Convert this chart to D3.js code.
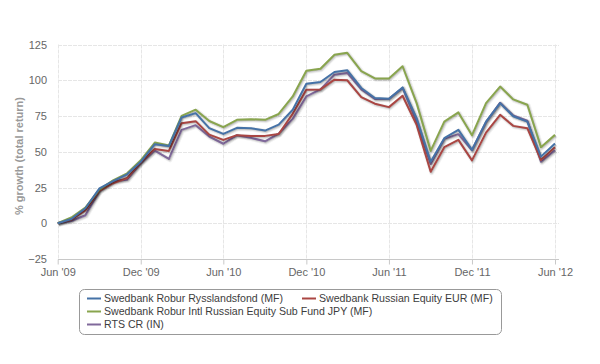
<!DOCTYPE html>
<html><head><meta charset="utf-8">
<script src="https://cdn.jsdelivr.net/npm/d3@7"></script>
<style>body{margin:0;background:#fff}svg{display:block;font-family:"Liberation Sans",Arial,sans-serif}</style>
</head><body><svg id="c" width="600" height="364"></svg>
<script>
const months = ["2009-06","2009-07","2009-08","2009-09","2009-10","2009-11","2009-12",
"2010-01","2010-02","2010-03","2010-04","2010-05","2010-06","2010-07","2010-08","2010-09","2010-10","2010-11","2010-12",
"2011-01","2011-02","2011-03","2011-04","2011-05","2011-06","2011-07","2011-08","2011-09","2011-10","2011-11","2011-12",
"2012-01","2012-02","2012-03","2012-04","2012-05","2012-06"];
const seriesNames = ["Swedbank Robur Rysslandsfond (MF)","Swedbank Russian Equity EUR (MF)","Swedbank Robur Intl Russian Equity Sub Fund JPY (MF)","RTS CR (IN)"];
const rysslandsfond = [0,3,10.5,24.4,29.5,34.2,43,55.3,54,74,77,66.5,62.5,66.7,66.5,64.8,69,79.4,97.6,98.8,105.8,107,94.6,87.6,87.1,95,73.5,43,59.5,65.3,51.3,71.1,84,74.8,71.1,46.6,55.7];
const russianEUR = [0,2.5,9,22.7,28,31.6,42.5,52,50.6,70,71.4,62,58.3,61.6,61,61.1,62.4,76.5,93.4,93.6,100.4,100,88.2,83.6,81.2,89.2,68.8,36,53.2,58.3,44,63.4,75.8,68.1,66.5,44.2,53.2];
const intlJPY = [0,4,11,23.5,30,34.9,44,56.4,54.3,75.1,79.4,71.5,67.2,72.3,72.8,72.3,76.4,88.7,106.7,108.1,117.8,119.2,106.4,101.3,101.3,109.8,84,50.6,71.1,77.5,61.5,84,95.6,86.6,82.9,53.2,61.8];
const rtsCR = [0,1.6,5.6,22.5,29.5,30.5,42,50.8,45,65.3,68.6,60.6,55.6,61.6,59.7,57.3,62.7,73,88.7,93.6,103.9,105.1,93.6,86.9,87.1,94.6,71.1,41.4,59,62.3,51,70.7,84.3,75.4,71.8,43,51];
const yTicks = [-25,0,25,50,75,100,125];
const xTicks = ["2009-06","2009-12","2010-06","2010-12","2011-06","2011-12","2012-06"];
const colors = ["#4572A7","#AA4643","#89A54E","#80699B"];

const parse = d3.utcParse("%Y-%m");
const dates = months.map(parse);
const allSeries = [rysslandsfond, russianEUR, intlJPY, rtsCR];
const drawOrder = [3,1,2,0];

const svg = d3.select("#c");
const pL = 58, pR = 559, pT = 44.5, pB = 259;
const x = d3.scaleUtc().domain([dates[0], dates[dates.length-1]]).range([57.7, 555]);
const y = d3.scaleLinear().domain([-25,125]).range([pB, pT]);

const g = svg.append("g");
g.selectAll(".hg").data(yTicks.filter(t=>t!==-25)).join("line")
  .attr("x1", pL).attr("x2", pR)
  .attr("y1", d=>Math.round(y(d))+0.5).attr("y2", d=>Math.round(y(d))+0.5)
  .attr("stroke","#e6e6e6").attr("stroke-dasharray","4,1");
g.selectAll(".vg").data(xTicks.map(parse)).join("line")
  .attr("x1", d=>Math.round(x(d))+0.5).attr("x2", d=>Math.round(x(d))+0.5)
  .attr("y1", pT).attr("y2", pB)
  .attr("stroke","#e6e6e6").attr("stroke-dasharray","4,1");

const xAxis = d3.axisBottom(x).tickValues(xTicks.map(parse)).tickSize(5)
  .tickFormat(d3.utcFormat("%b '%y"));
const xa = svg.append("g").attr("transform",`translate(0,${Math.round(pB)+0.5})`).call(xAxis);
xa.select(".domain").attr("d",`M${pL},0H${pR}`).attr("stroke","#c8c8c8");
xa.selectAll(".tick line").attr("stroke","#c8c8c8");
xa.selectAll(".tick text").attr("fill","#666").attr("font-size","11px").attr("dy","0.35em").attr("y",13);

const yAxis = d3.axisLeft(y).tickValues(yTicks).tickSize(0).tickPadding(11);
const ya = svg.append("g").attr("transform",`translate(${pL},0)`).call(yAxis);
ya.select(".domain").remove();
ya.selectAll(".tick text").attr("fill","#666").attr("font-size","11px");

svg.append("text").attr("transform",`translate(23,156) rotate(-90)`)
  .attr("text-anchor","middle").attr("fill","#999").attr("font-size","11px").attr("font-weight","bold")
  .text("% growth (total return)");

const line = d3.line().x((d,i)=>x(dates[i])).y(d=>y(d));
const lg = svg.append("g");
drawOrder.forEach(k=>{
  const data = allSeries[k];
  [[5,0.05],[3,0.1],[1,0.15]].forEach(([w,o])=>{
    lg.append("path").attr("d",line(data)).attr("fill","none").attr("stroke","#000")
      .attr("stroke-opacity",o).attr("stroke-width",w).attr("transform","translate(1,1)")
      .attr("stroke-linejoin","round");
  });
  lg.append("path").attr("d",line(data)).attr("fill","none").attr("stroke",colors[k])
    .attr("stroke-width",2).attr("stroke-linejoin","round");
});

const leg = svg.append("g");
leg.append("rect").attr("x",79.5).attr("y",289.5).attr("width",422).attr("height",45).attr("rx",5)
  .attr("fill","#fff").attr("stroke","#999");
const items = [
  {k:0,x:87,y:298},{k:1,x:302,y:298},{k:2,x:87,y:311},{k:3,x:87,y:324}
];
items.forEach(it=>{
  leg.append("line").attr("x1",it.x).attr("x2",it.x+14).attr("y1",it.y+0.5).attr("y2",it.y+0.5)
    .attr("stroke",colors[it.k]).attr("stroke-width",2);
  leg.append("text").attr("x",it.x+17).attr("y",it.y).attr("dy","0.35em")
    .attr("font-size","10.6px").attr("fill","#3d3d3d").text(seriesNames[it.k]);
});
</script></body></html>
